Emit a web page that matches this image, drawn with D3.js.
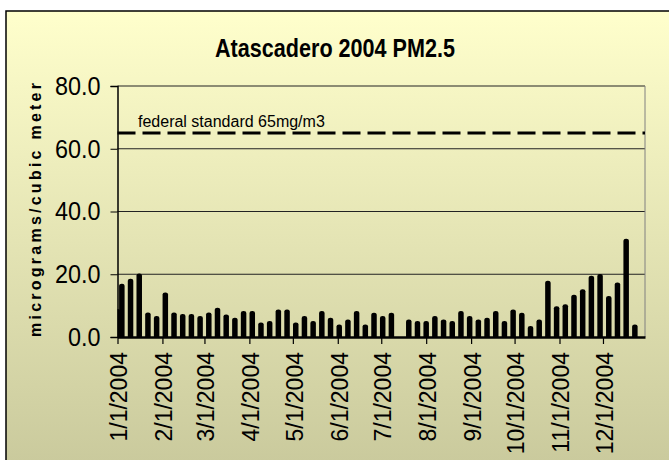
<!DOCTYPE html>
<html><head><meta charset="utf-8">
<script src="https://cdn.jsdelivr.net/npm/d3@7"></script>
<style>
body{margin:0;background:#fff}
svg{display:block}
text{font-family:"Liberation Sans",Arial,sans-serif;fill:#000}
</style>
</head><body>
<svg id="chart" width="669" height="460"></svg>
<script>
const chartTitle = "Atascadero 2004 PM2.5";
const yAxisTitle = "micrograms/cubic meter";
const standardLabel = "federal standard 65mg/m3";
const standardValue = 65;
const yTicks = [0, 20, 40, 60, 80];
const monthTicks = ["2004-01-01","2004-02-01","2004-03-01","2004-04-01","2004-05-01","2004-06-01",
                    "2004-07-01","2004-08-01","2004-09-01","2004-10-01","2004-11-01","2004-12-01"];
const sampleDates = [
  "2004-01-01","2004-01-04","2004-01-10","2004-01-16","2004-01-22","2004-01-28",
  "2004-02-03","2004-02-09","2004-02-15","2004-02-21","2004-02-27",
  "2004-03-04","2004-03-10","2004-03-16","2004-03-22","2004-03-28",
  "2004-04-03","2004-04-09","2004-04-15","2004-04-21","2004-04-27",
  "2004-05-03","2004-05-09","2004-05-15","2004-05-21","2004-05-27",
  "2004-06-02","2004-06-08","2004-06-14","2004-06-20","2004-06-26",
  "2004-07-02","2004-07-08","2004-07-20","2004-07-26",
  "2004-08-01","2004-08-07","2004-08-13","2004-08-19","2004-08-25","2004-08-31",
  "2004-09-06","2004-09-12","2004-09-18","2004-09-24","2004-09-30",
  "2004-10-06","2004-10-12","2004-10-18","2004-10-24","2004-10-30",
  "2004-11-05","2004-11-11","2004-11-17","2004-11-23","2004-11-29",
  "2004-12-05","2004-12-11","2004-12-17","2004-12-23"
];
const pm25 = [
  8.9, 17.0, 18.6, 20.2, 7.8, 6.7,
  14.2, 7.8, 7.3, 7.3, 6.7,
  7.8, 9.3, 7.2, 6.1, 8.3,
  8.3, 4.6, 5.1, 8.8, 8.8,
  4.6, 6.7, 5.1, 8.3, 6.1,
  4.0, 5.6, 8.3, 4.0, 7.7,
  6.7, 7.7, 5.6, 5.1,
  5.1, 6.7, 5.6, 5.1, 8.3, 6.7,
  5.6, 6.1, 8.3, 5.1, 8.8,
  7.7, 3.5, 5.6, 17.9, 9.8,
  10.4, 13.5, 15.2, 19.5, 20.1,
  13.1, 17.4, 31.3, 4.0
];

const parse = d3.utcParse("%Y-%m-%d");
const fmt = d3.utcFormat("%-m/%-d/%Y");
const data = sampleDates.map((d, i) => ({date: parse(d), value: pm25[i]}));

const svg = d3.select("#chart");
const W = 669, H = 460;
const plot = {left: 117.5, right: 645, top: 86, bottom: 337};

const defs = svg.append("defs");
const grad = defs.append("linearGradient").attr("id", "bg").attr("x1", 0).attr("y1", 0).attr("x2", 0).attr("y2", 1);
grad.append("stop").attr("offset", "0%").attr("stop-color", "#FFFFCC");
grad.append("stop").attr("offset", "100%").attr("stop-color", "#C9C99C");
defs.append("clipPath").attr("id", "clip").append("rect")
  .attr("x", plot.left).attr("y", plot.top).attr("width", plot.right - plot.left).attr("height", plot.bottom - plot.top);

svg.append("rect").attr("x", 6).attr("y", 11).attr("width", W).attr("height", H)
  .attr("fill", "url(#bg)").attr("stroke", "#000").attr("stroke-width", 1.5);

const x = d3.scaleUtc().domain([parse("2004-01-01"), parse("2004-12-30")]).range([plot.left, plot.right]);
const y = d3.scaleLinear().domain([0, 80]).range([plot.bottom, plot.top]);

// title
svg.append("text").attr("x", 335).attr("y", 57).attr("text-anchor", "middle")
  .attr("font-size", 25).attr("font-weight", "bold")
  .attr("textLength", 240).attr("lengthAdjust", "spacingAndGlyphs").text(chartTitle);

// gridlines
svg.append("g").selectAll("line").data(yTicks.filter(t => t > 0)).join("line")
  .attr("x1", plot.left).attr("x2", plot.right)
  .attr("y1", d => y(d)).attr("y2", d => y(d))
  .attr("stroke", "#222").attr("stroke-width", 1);

svg.append("line").attr("x1", plot.right).attr("x2", plot.right).attr("y1", plot.top).attr("y2", plot.bottom)
  .attr("stroke", "#808080").attr("stroke-width", 1);

// bars
const barW = 5.5;
svg.append("g").attr("clip-path", "url(#clip)").selectAll("rect").data(data).join("rect")
  .attr("x", d => x(d.date) - barW / 2)
  .attr("y", d => y(d.value))
  .attr("width", barW)
  .attr("height", d => plot.bottom - y(d.value) + 4)
  .attr("rx", 2.5).attr("ry", 2)
  .attr("fill", "#000");

// standard line
svg.append("line").attr("x1", plot.left).attr("x2", plot.right)
  .attr("y1", y(standardValue)).attr("y2", y(standardValue))
  .attr("stroke", "#000").attr("stroke-width", 3).attr("stroke-dasharray", "18,7");
svg.append("text").attr("x", 138).attr("y", y(standardValue) - 6)
  .attr("font-size", 16).text(standardLabel);

// y axis
const yAxis = d3.axisLeft(y).tickValues(yTicks).tickFormat(d3.format(".1f")).tickSize(7).tickPadding(10);
const gy = svg.append("g").attr("transform", `translate(${plot.left},0)`).call(yAxis);
gy.select(".domain").attr("stroke", "#000").attr("stroke-width", 1.5);
gy.selectAll(".tick line").attr("stroke", "#000");
gy.selectAll(".tick text").attr("font-size", 26).attr("font-family", "Liberation Sans, Arial, sans-serif").attr("fill", "#000")
  .each(function() {
    const len = this.getComputedTextLength();
    d3.select(this).attr("textLength", len * 0.9).attr("lengthAdjust", "spacingAndGlyphs");
  });

// x axis
const xAxis = d3.axisBottom(x).tickValues(monthTicks.map(parse)).tickFormat(fmt).tickSize(7).tickSizeOuter(0);
const gx = svg.append("g").attr("transform", `translate(0,${plot.bottom})`).call(xAxis);
gx.select(".domain").attr("stroke", "#000").attr("stroke-width", 2.5);
gx.selectAll(".tick line").attr("stroke", "#000").attr("stroke-width", 1.2);
gx.selectAll(".tick text")
  .attr("font-size", 23).attr("font-family", "Liberation Sans, Arial, sans-serif").attr("fill", "#000")
  .attr("text-anchor", "end")
  .attr("transform", "rotate(-90)")
  .attr("x", -15).attr("y", 1).attr("dy", "0.36em")
  .attr("dx", 0);

// y axis title
svg.append("text").attr("transform", "translate(41,210) rotate(-90)")
  .attr("text-anchor", "middle").attr("font-size", 16).attr("font-weight", "bold")
  .attr("textLength", 254).attr("lengthAdjust", "spacing")
  .text(yAxisTitle);
</script>
</body></html>
